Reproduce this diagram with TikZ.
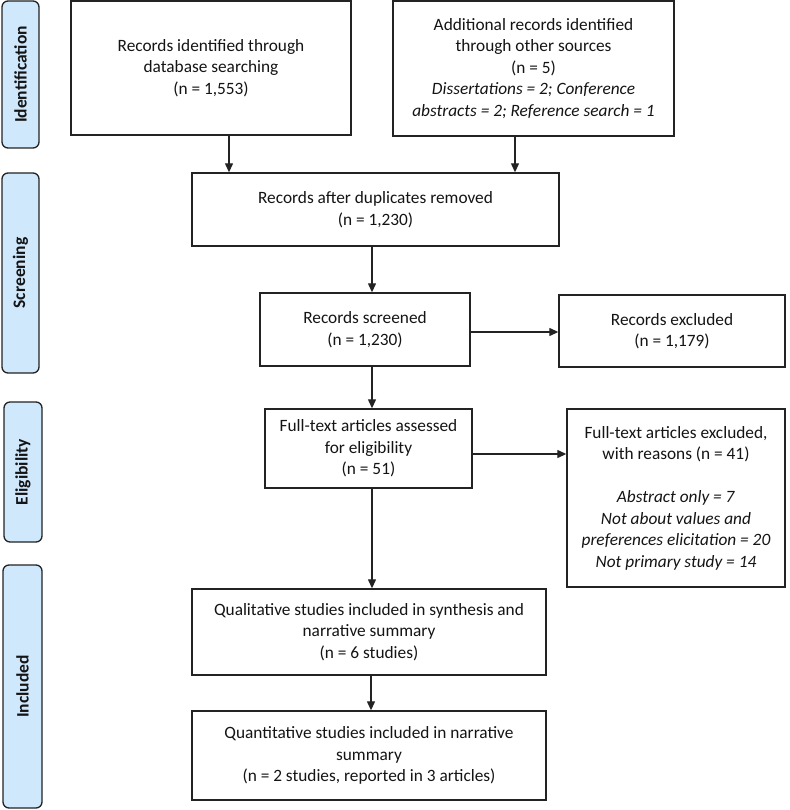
\documentclass[tikz,border=0pt]{standalone}
\usepackage{fontspec}
\setmainfont{Carlito}
\usetikzlibrary{arrows.meta}
\definecolor{lblfill}{RGB}{208,232,252}
\definecolor{edge}{RGB}{35,35,35}
\definecolor{txt}{RGB}{20,20,20}
\tikzset{
 box/.style={draw=edge, line width=1.4pt, fill=white, text=txt, align=center, inner sep=0pt,
   font=\fontsize{17.3}{21.5}\selectfont},
 phase/.style={draw=edge, line width=1.3pt, fill=lblfill, text=txt, rounded corners=6pt, inner sep=0pt,
   font=\bfseries\fontsize{17.5}{20}\selectfont, rotate=90},
 arr/.style={-{Triangle[length=9pt,width=8pt]}, line width=1.3pt, draw=edge},
}
\begin{document}
\begin{tikzpicture}[x=1pt,y=-1pt]
\useasboundingbox (0,0) rectangle (789,810);
% phase labels
\node[phase, minimum width=147, minimum height=37] (pid) at (20.5,74.5) {Identification};
\node[phase, minimum width=200, minimum height=37] (psc) at (20.5,273) {Screening};
\node[phase, minimum width=140, minimum height=38] (pel) at (23,472) {Eligibility};
\node[phase, minimum width=243, minimum height=39] (pin) at (22.5,686.5) {Included};
% boxes
\node[box, minimum width=280, minimum height=134] (b1) at (211,68) {Records identified through\\database searching\\(n = 1,553)};
\node[box, minimum width=281, minimum height=135] (b2) at (533.5,68.5) {Additional records identified\\through other sources\\(n = 5)\\\textit{Dissertations = 2; Conference}\\\textit{abstracts = 2; Reference search = 1}};
\node[box, minimum width=367, minimum height=73] (b3) at (375.5,209.5) {Records after duplicates removed\\(n = 1,230)};
\node[box, minimum width=210, minimum height=73] (scr) at (365,329.5) {Records screened\\(n = 1,230)};
\node[box, minimum width=226, minimum height=72] (exc) at (672,331) {Records excluded\\(n = 1,179)};
\node[box, minimum width=207, minimum height=79] (ft) at (368.5,448.5) {Full-text articles assessed\\for eligibility\\(n = 51)};
\node[box, minimum width=218, minimum height=178] (ftx) at (676,498) {Full-text articles excluded,\\with reasons (n = 41)\\[21.5pt]\textit{Abstract only = 7}\\\textit{Not about values and}\\\textit{preferences elicitation = 20}\\\textit{Not primary study = 14}};
\node[box, minimum width=354, minimum height=86] (qual) at (369,632) {Qualitative studies included in synthesis and\\narrative summary\\(n = 6 studies)};
\node[box, minimum width=354, minimum height=89] (quan) at (369,755.5) {Quantitative studies included in narrative\\summary\\(n = 2 studies, reported in 3 articles)};
% connectors
\draw[arr] (b1.south -| 229,0) -- (b3.north -| 229,0);
\draw[arr] (b2.south -| 515,0) -- (b3.north -| 515,0);
\draw[arr] (b3.south -| 372,0) -- (scr.north -| 372,0);
\draw[arr] (scr.east |- 0,332) -- (exc.west |- 0,332);
\draw[arr] (scr.south -| 372,0) -- (ft.north -| 372,0);
\draw[arr] (ft.east |- 0,454) -- (ftx.west |- 0,454);
\draw[arr] (ft.south -| 372,0) -- (qual.north -| 372,0);
\draw[arr] (qual.south -| 371,0) -- (quan.north -| 371,0);
\end{tikzpicture}
\end{document}
